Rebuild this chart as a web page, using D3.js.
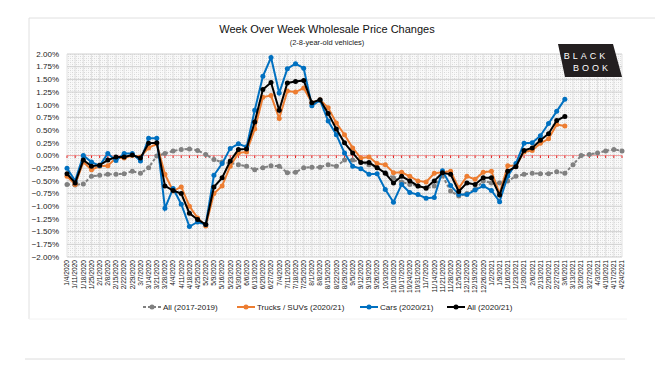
<html><head>
<meta charset="UTF-8">
<script src="https://cdn.jsdelivr.net/npm/d3@7"></script>
<style>
body{margin:0;background:#fff;}
text{font-family:"Liberation Sans",Arial,sans-serif;}
</style>
</head><body>
<svg id="chart" width="655" height="372"></svg>
<script>
// weekly categories
var weeks = ["1/4/2020","1/11/2020","1/18/2020","1/25/2020","2/1/2020","2/8/2020","2/15/2020","2/22/2020","2/29/2020",
"3/7/2020","3/14/2020","3/21/2020","3/28/2020","4/4/2020","4/11/2020","4/18/2020","4/25/2020","5/2/2020","5/9/2020",
"5/16/2020","5/23/2020","5/30/2020","6/6/2020","6/13/2020","6/20/2020","6/27/2020","7/4/2020","7/11/2020","7/18/2020",
"7/25/2020","8/1/2020","8/8/2020","8/15/2020","8/22/2020","8/29/2020","9/5/2020","9/12/2020","9/19/2020","9/26/2020",
"10/3/2020","10/10/2020","10/17/2020","10/24/2020","10/31/2020","11/7/2020","11/14/2020","11/21/2020","11/28/2020",
"12/5/2020","12/12/2020","12/19/2020","12/26/2020","1/2/2021","1/9/2021","1/16/2021","1/23/2021","1/30/2021","2/6/2021",
"2/13/2021","2/20/2021","2/27/2021","3/6/2021","3/13/2021","3/20/2021","3/27/2021","4/3/2021","4/10/2021","4/17/2021","4/24/2021"];

var all1719 = [-0.57,-0.58,-0.56,-0.41,-0.39,-0.37,-0.37,-0.36,-0.31,-0.35,
 -0.24,-0.01,0.04,0.09,0.12,0.13,0.10,0.02,-0.08,-0.13,
 -0.15,-0.18,-0.21,-0.28,-0.24,-0.20,-0.21,-0.34,-0.33,-0.24,
 -0.23,-0.23,-0.18,-0.21,-0.09,-0.09,-0.13,-0.18,-0.24,-0.34,
 -0.44,-0.52,-0.57,-0.60,-0.65,-0.60,-0.40,-0.70,-0.80,-0.75,
 -0.67,-0.50,-0.54,-0.54,-0.50,-0.41,-0.37,-0.35,-0.36,-0.36,
 -0.32,-0.35,-0.18,0.00,0.02,0.05,0.09,0.12,0.09];

var trucks = [-0.41,-0.57,-0.13,-0.28,-0.21,-0.20,-0.05,-0.05,0.00,-0.03,
 0.15,0.23,-0.37,-0.70,-0.62,-1.00,-1.23,-1.39,-0.75,-0.60,
 -0.21,0.05,0.07,0.52,1.15,1.18,0.73,1.27,1.25,1.33,
 1.04,1.10,0.94,0.64,0.41,0.15,-0.05,-0.03,-0.16,-0.18,
 -0.34,-0.33,-0.41,-0.50,-0.52,-0.35,-0.33,-0.31,-0.64,-0.41,
 -0.47,-0.33,-0.31,-0.75,-0.20,-0.20,0.07,0.10,0.24,0.33,0.61,0.58];

var cars = [-0.25,-0.50,0.00,-0.13,-0.20,0.04,-0.10,0.04,0.04,-0.11,
 0.34,0.34,-1.04,-0.65,-0.96,-1.40,-1.31,-1.36,-0.39,-0.16,
 0.14,0.23,0.17,0.89,1.56,1.93,1.23,1.71,1.81,1.72,
 0.98,1.09,0.68,0.41,0.05,-0.21,-0.26,-0.37,-0.36,-0.67,
 -0.92,-0.57,-0.73,-0.77,-0.84,-0.83,-0.30,-0.59,-0.77,-0.77,
 -0.68,-0.60,-0.69,-0.91,-0.41,-0.16,0.24,0.25,0.39,0.63,0.87,1.11];

var all2021 = [-0.36,-0.54,-0.09,-0.21,-0.19,-0.09,-0.03,-0.03,0.01,-0.05,
 0.24,0.25,-0.60,-0.69,-0.75,-1.14,-1.26,-1.36,-0.62,-0.44,
 -0.11,0.12,0.13,0.66,1.30,1.44,0.89,1.43,1.46,1.48,
 1.04,1.10,0.83,0.52,0.25,0.05,-0.14,-0.14,-0.24,-0.35,
 -0.54,-0.41,-0.50,-0.60,-0.64,-0.50,-0.34,-0.37,-0.71,-0.54,
 -0.57,-0.44,-0.44,-0.78,-0.31,-0.22,0.10,0.15,0.30,0.43,0.69,0.77];

var yTicks = [2,1.75,1.5,1.25,1,0.75,0.5,0.25,0,-0.25,-0.5,-0.75,-1,-1.25,-1.5,-1.75,-2];

var series = [
 {name:"All (2017-2019)", values:all1719, color:"#808080", dash:"3,2"},
 {name:"Trucks / SUVs (2020/21)", values:trucks, color:"#ed7d31", dash:null},
 {name:"Cars (2020/21)", values:cars, color:"#0070c0", dash:null},
 {name:"All (2020/21)", values:all2021, color:"#000000", dash:null}
];

var svg = d3.select("#chart");
var pL = 67, pR = 622, pT = 54, pB = 257;

var x = d3.scalePoint().domain(weeks).range([pL, pR]);
var y = d3.scaleLinear().domain([-2, 2]).range([pB, pT]);

// frame
svg.append("line").attr("x1",29).attr("x2",655).attr("y1",18).attr("y2",18).attr("stroke","#e0e0e0");
svg.append("line").attr("x1",29).attr("x2",29).attr("y1",18).attr("y2",319).attr("stroke","#e0e0e0");
svg.append("line").attr("x1",29).attr("x2",627).attr("y1",319).attr("y2",319).attr("stroke","#f2f2f2");
svg.append("line").attr("x1",25).attr("x2",625).attr("y1",359).attr("y2",359).attr("stroke","#dcdcdc");

// plot background pattern
var defs = svg.append("defs");
var pat = defs.append("pattern").attr("id","hatch").attr("width",4).attr("height",4).attr("patternUnits","userSpaceOnUse");
pat.append("rect").attr("width",4).attr("height",4).attr("fill","#f9f9f9");
pat.append("rect").attr("x",0).attr("y",0).attr("width",1).attr("height",1).attr("fill","#d8d8d8");
pat.append("rect").attr("x",2).attr("y",2).attr("width",1).attr("height",1).attr("fill","#d8d8d8");
pat.append("rect").attr("x",2).attr("y",0).attr("width",1).attr("height",1).attr("fill","#e8e8e8");
pat.append("rect").attr("x",0).attr("y",2).attr("width",1).attr("height",1).attr("fill","#e8e8e8");
svg.append("rect").attr("x",pL).attr("y",pT).attr("width",pR-pL).attr("height",pB-pT).attr("fill","url(#hatch)");

// vertical grid
svg.append("g").selectAll("line").data(weeks).join("line")
  .attr("x1",d=>x(d)).attr("x2",d=>x(d)).attr("y1",pT).attr("y2",pB)
  .attr("stroke","#e2e2e2").attr("stroke-width",1);

// horizontal grid
svg.append("g").selectAll("line").data(yTicks.filter(d=>d!==0)).join("line")
  .attr("x1",pL).attr("x2",pR).attr("y1",d=>y(d)).attr("y2",d=>y(d))
  .attr("stroke","#d0d0d0").attr("stroke-width",1);

// zero line with red ticks
svg.append("line").attr("x1",pL).attr("x2",pR).attr("y1",y(0)).attr("y2",y(0))
  .attr("stroke","#f4a3a3").attr("stroke-width",1);
svg.append("g").selectAll("line").data(weeks).join("line")
  .attr("x1",d=>x(d)).attr("x2",d=>x(d)).attr("y1",y(0)).attr("y2",y(0)+2.5)
  .attr("stroke","#e02020").attr("stroke-width",1);

// y labels
svg.append("g").selectAll("text").data(yTicks).join("text")
  .attr("x",59).attr("y",d=>y(d)).attr("dy","0.35em").attr("text-anchor","end")
  .attr("font-size","8px").attr("fill","#222")
  .text(d=>d3.format(".2f")(d)+"%");

// x labels
svg.append("g").selectAll("text").data(weeks).join("text")
  .attr("transform",d=>"translate("+(x(d)+2.3)+",260) rotate(-90)")
  .attr("text-anchor","end").attr("font-size","6.6px").attr("fill","#111")
  .text(d=>d);

// series
var line = d3.line().x((d,i)=>x(weeks[i])).y(d=>y(d));
series.forEach(function(s){
  var g = svg.append("g");
  g.append("path").attr("d",line(s.values)).attr("fill","none")
    .attr("stroke",s.color).attr("stroke-width",2)
    .attr("stroke-dasharray",s.dash);
  g.selectAll("circle").data(s.values).join("circle")
    .attr("cx",(d,i)=>x(weeks[i])).attr("cy",d=>y(d)).attr("r",2.5)
    .attr("fill",s.color);
});

// legend
var legX = [143, 237, 360, 447];
series.forEach(function(s,i){
  var g = svg.append("g").attr("transform","translate("+legX[i]+",307)");
  g.append("line").attr("x1",0).attr("x2",18).attr("y1",0).attr("y2",0)
    .attr("stroke",s.color).attr("stroke-width",2).attr("stroke-dasharray",s.dash);
  g.append("circle").attr("cx",9).attr("cy",0).attr("r",2.5).attr("fill",s.color);
  g.append("text").attr("x",20).attr("y",0).attr("dy","0.35em")
    .attr("font-size","8px").attr("fill","#222").text(s.name);
});

// title
svg.append("text").attr("x",327).attr("y",33).attr("text-anchor","middle")
  .attr("font-size","11px").attr("fill","#111").text("Week Over Week Wholesale Price Changes");
svg.append("text").attr("x",327).attr("y",45).attr("text-anchor","middle")
  .attr("font-size","7.5px").attr("fill","#222").text("(2-8-year-old vehicles)");

// logo
svg.append("polygon").attr("points","558,44 613,44 622,77 565,77").attr("fill","#231f20");
svg.append("text").attr("x",586).attr("y",59).attr("text-anchor","middle")
  .attr("font-size","9px").attr("letter-spacing","3px").attr("fill","#fff").text("BLACK");
svg.append("text").attr("x",592).attr("y",70.5).attr("text-anchor","middle")
  .attr("font-size","9px").attr("letter-spacing","3px").attr("fill","#fff").text("BOOK");
</script>
</body></html>
